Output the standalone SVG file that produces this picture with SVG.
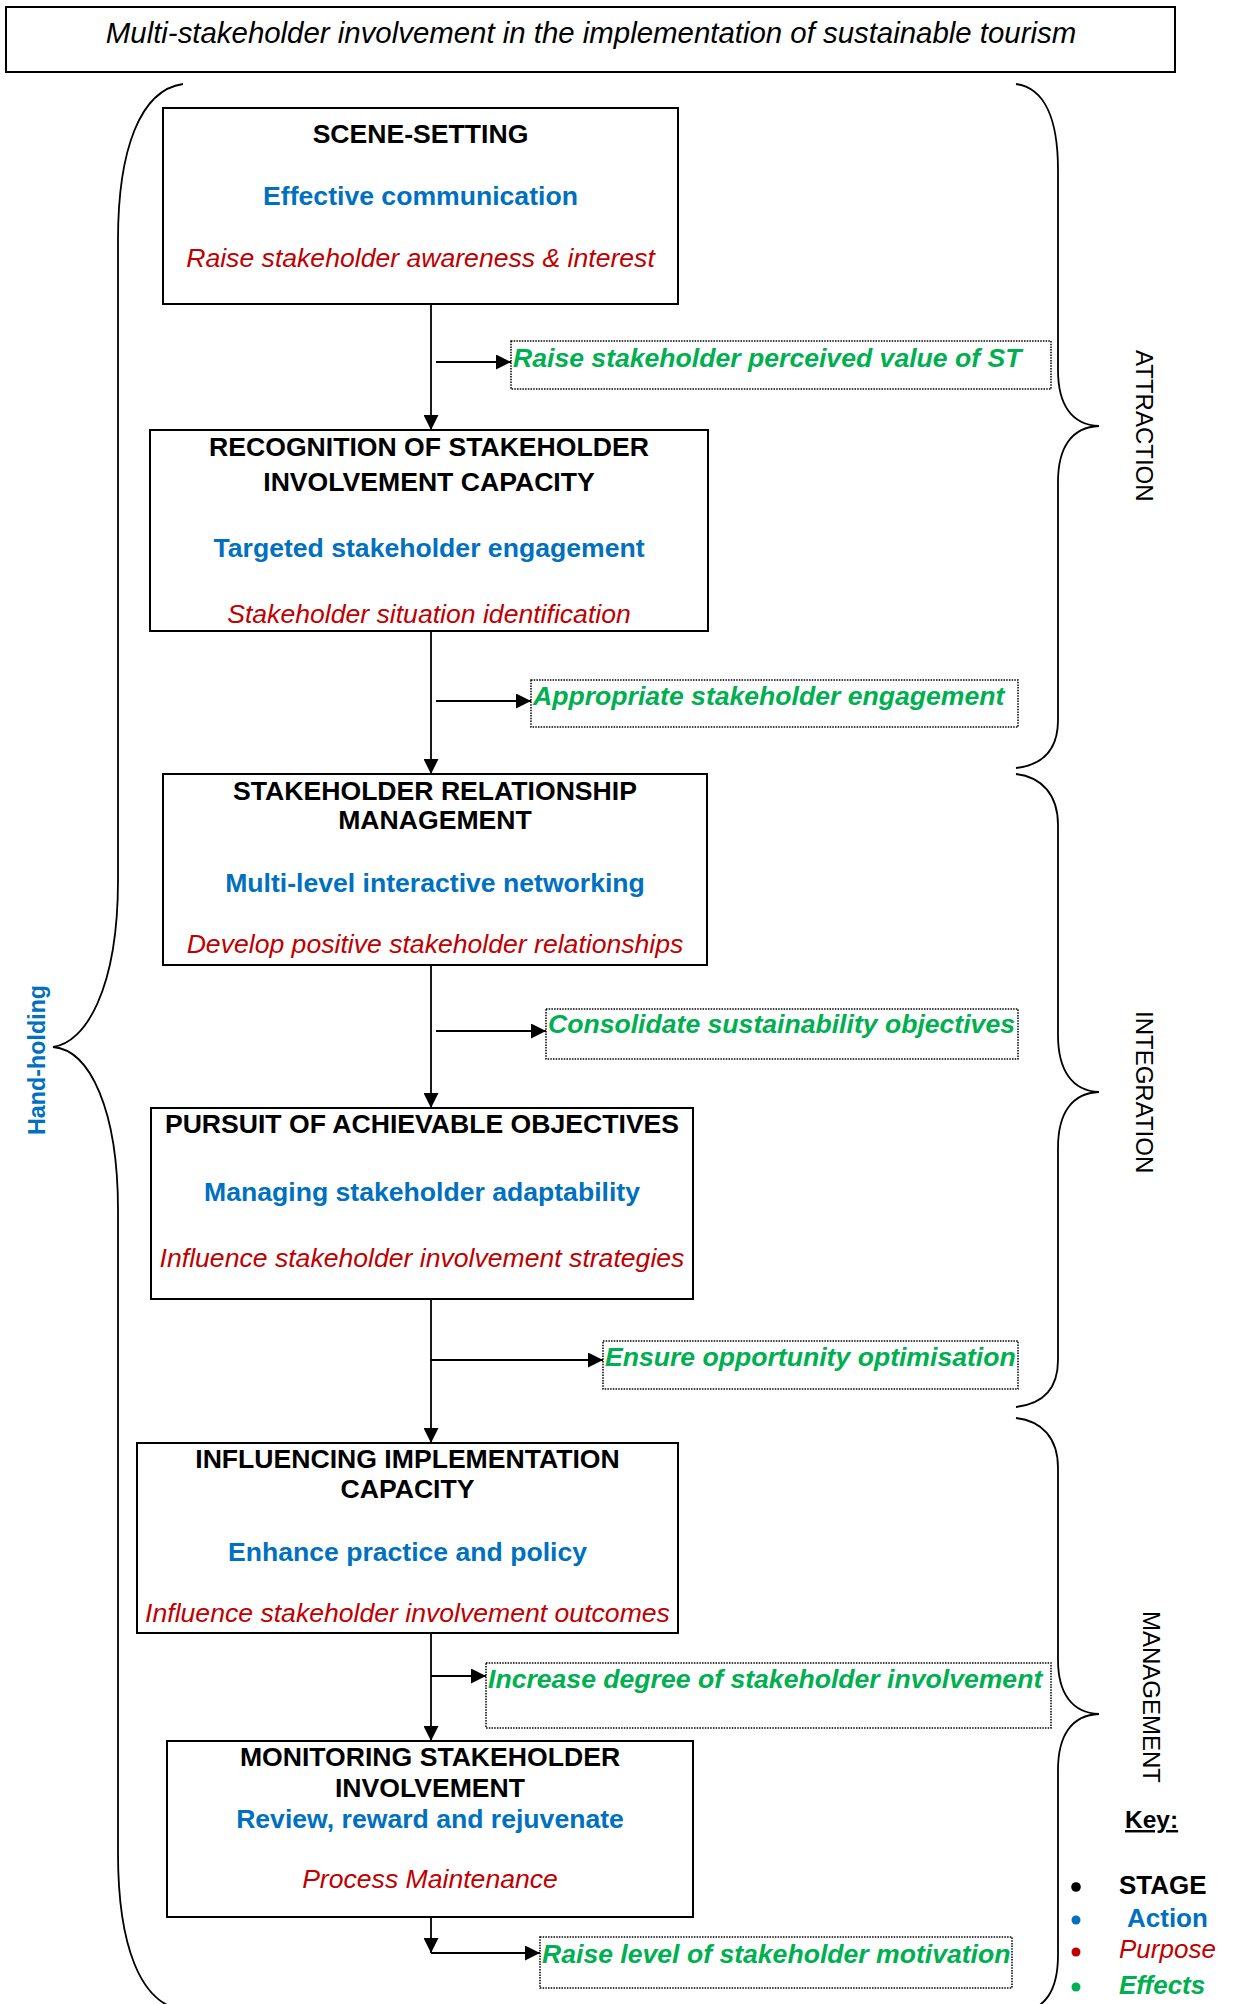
<svg xmlns="http://www.w3.org/2000/svg" width="1233" height="2004" viewBox="0 0 1233 2004">
<style>
text{font-family:"Liberation Sans",Arial,sans-serif;font-size:26.6px}
.c{text-anchor:middle}
.stage{font-weight:bold;fill:#000}
.action{font-weight:bold;fill:#0070C0}
.purpose{font-style:italic;fill:#C00000}
.effect{font-weight:bold;font-style:italic;fill:#00B050}
.box{fill:#fff;stroke:#000;stroke-width:2}
.ebox{fill:none;stroke:#000;stroke-width:1.5;stroke-dasharray:1.5 1.2}
.conn{stroke:#000;stroke-width:1.8;fill:none}
.hconn{stroke:#000;stroke-width:2.2;fill:none}
.brace{stroke:#000;stroke-width:1.8;fill:none}
.phase{font-size:24px;fill:#000}
</style>
<defs>
<marker id="ah" markerUnits="userSpaceOnUse" markerWidth="15" markerHeight="15" refX="15" refY="7.5" orient="auto">
<path d="M0,0 L15,7.5 L0,15 z" fill="#000"/>
</marker>
</defs>
<rect width="1233" height="2004" fill="#fff"/>

<g id="title">
<rect class="box" x="6" y="7" width="1169" height="65"/>
<text class="c" x="591" y="43" style="font-style:italic;font-size:29.4px">Multi-stakeholder involvement in the implementation of sustainable tourism</text>
</g>

<g id="stage1">
<rect class="box" x="163" y="108" width="515" height="196"/>
<text class="c stage" x="420.5" y="143">SCENE-SETTING</text>
<text class="c action" x="420.5" y="205">Effective communication</text>
<text class="c purpose" x="420.5" y="267">Raise stakeholder awareness &amp; interest</text>
</g>

<g id="stage2">
<rect class="box" x="150" y="430" width="558" height="201"/>
<text class="c stage" x="429" y="456">RECOGNITION OF STAKEHOLDER</text>
<text class="c stage" x="429" y="491">INVOLVEMENT CAPACITY</text>
<text class="c action" x="429" y="557">Targeted stakeholder engagement</text>
<text class="c purpose" x="429" y="623">Stakeholder situation identification</text>
</g>

<g id="stage3">
<rect class="box" x="163" y="774" width="544" height="191"/>
<text class="c stage" x="435" y="800">STAKEHOLDER RELATIONSHIP</text>
<text class="c stage" x="435" y="829">MANAGEMENT</text>
<text class="c action" x="435" y="892">Multi-level interactive networking</text>
<text class="c purpose" x="435" y="953">Develop positive stakeholder relationships</text>
</g>

<g id="stage4">
<rect class="box" x="151" y="1108" width="542" height="191"/>
<text class="c stage" x="422" y="1133">PURSUIT OF ACHIEVABLE OBJECTIVES</text>
<text class="c action" x="422" y="1201">Managing stakeholder adaptability</text>
<text class="c purpose" x="422" y="1267">Influence stakeholder involvement strategies</text>
</g>

<g id="stage5">
<rect class="box" x="137" y="1443" width="541" height="190"/>
<text class="c stage" x="407.5" y="1468">INFLUENCING IMPLEMENTATION</text>
<text class="c stage" x="407.5" y="1498">CAPACITY</text>
<text class="c action" x="407.5" y="1561">Enhance practice and policy</text>
<text class="c purpose" x="407.5" y="1622">Influence stakeholder involvement outcomes</text>
</g>

<g id="stage6">
<rect class="box" x="167" y="1741" width="526" height="176"/>
<text class="c stage" x="430" y="1766">MONITORING STAKEHOLDER</text>
<text class="c stage" x="430" y="1797">INVOLVEMENT</text>
<text class="c action" x="430" y="1828">Review, reward and rejuvenate</text>
<text class="c purpose" x="430" y="1888">Process Maintenance</text>
</g>

<g id="effect1">
<rect class="ebox" x="511" y="341" width="540" height="48"/>
<text class="effect" x="513" y="367">Raise stakeholder perceived value of ST</text>
</g>
<g id="effect2">
<rect class="ebox" x="531" y="680" width="487" height="47"/>
<text class="effect" x="533" y="705">Appropriate stakeholder engagement</text>
</g>
<g id="effect3">
<rect class="ebox" x="546" y="1009" width="472" height="50"/>
<text class="effect" x="548" y="1033">Consolidate sustainability objectives</text>
</g>
<g id="effect4">
<rect class="ebox" x="603" y="1341" width="415" height="48"/>
<text class="effect" x="605" y="1366">Ensure opportunity optimisation</text>
</g>
<g id="effect5">
<rect class="ebox" x="486" y="1663" width="565" height="65"/>
<text class="effect" x="488" y="1688">Increase degree of stakeholder involvement</text>
</g>
<g id="effect6">
<rect class="ebox" x="540" y="1937" width="472" height="51"/>
<text class="effect" x="542" y="1963">Raise level of stakeholder motivation</text>
</g>

<g id="connectors">
<line class="conn" x1="431" y1="304" x2="431" y2="430" marker-end="url(#ah)"/>
<line class="hconn" x1="436" y1="362" x2="511" y2="362" marker-end="url(#ah)"/>
<line class="conn" x1="431" y1="631" x2="431" y2="774" marker-end="url(#ah)"/>
<line class="hconn" x1="436" y1="701" x2="531" y2="701" marker-end="url(#ah)"/>
<line class="conn" x1="431" y1="965" x2="431" y2="1108" marker-end="url(#ah)"/>
<line class="hconn" x1="436" y1="1031" x2="546" y2="1031" marker-end="url(#ah)"/>
<line class="conn" x1="431" y1="1299" x2="431" y2="1443" marker-end="url(#ah)"/>
<line class="hconn" x1="431" y1="1360" x2="603" y2="1360" marker-end="url(#ah)"/>
<line class="conn" x1="431" y1="1633" x2="431" y2="1741" marker-end="url(#ah)"/>
<line class="hconn" x1="431" y1="1676" x2="486" y2="1676" marker-end="url(#ah)"/>
<line class="conn" x1="431" y1="1917" x2="431" y2="1953" marker-end="url(#ah)"/>
<line class="hconn" x1="431" y1="1953" x2="540" y2="1953" marker-end="url(#ah)"/>
</g>

<g id="brace-handholding">
<path class="brace" d="M183,84 C140,90 118,150 118,240 L118,880 C118,990 85,1043 53,1047 C90,1050 118,1110 118,1210 L118,1853 C118,1945 140,2004 183,2010"/>
<text transform="translate(45,1135) rotate(-90)" style="font-weight:bold;font-size:23.3px;fill:#0070C0">Hand-holding</text>
</g>

<g id="brace-attraction">
<path class="brace" d="M1016,84 C1045,88 1058,120 1058,170 L1058,370 C1058,405 1072,425 1099,426 C1072,427 1058,447 1058,482 L1058,720 C1058,750 1042,765 1016,768"/>
<text class="phase" transform="translate(1136,350) rotate(90)">ATTRACTION</text>
</g>

<g id="brace-integration">
<path class="brace" d="M1016,774 C1042,777 1058,795 1058,825 L1058,1035 C1058,1070 1072,1091 1099,1092 C1072,1093 1058,1113 1058,1148 L1058,1360 C1058,1390 1042,1404 1016,1407"/>
<text class="phase" transform="translate(1136,1011) rotate(90)">INTEGRATION</text>
</g>

<g id="brace-management">
<path class="brace" d="M1016,1418 C1042,1421 1058,1438 1058,1468 L1058,1660 C1058,1693 1072,1713 1099,1714 C1072,1715 1058,1735 1058,1770 L1058,1955 C1058,1990 1046,2010 1016,2014"/>
<text class="phase" transform="translate(1143,1611) rotate(90)">MANAGEMENT</text>
</g>

<g id="key">
<text x="1125" y="1828" style="font-weight:bold;font-size:24.5px;text-decoration:underline">Key:</text>
<circle cx="1076" cy="1887" r="4.8" fill="#000"/>
<circle cx="1076" cy="1920" r="4.5" fill="#0070C0"/>
<circle cx="1076" cy="1952" r="4.5" fill="#C00000"/>
<circle cx="1076" cy="1987" r="4.5" fill="#00B050"/>
<text class="stage" x="1119" y="1894" style="font-size:26px">STAGE</text>
<text class="action" x="1127" y="1927" style="font-size:26px">Action</text>
<text class="purpose" x="1119" y="1958" style="font-size:26px">Purpose</text>
<text class="effect" x="1119" y="1994" style="font-size:26px">Effects</text>
</g>
</svg>
